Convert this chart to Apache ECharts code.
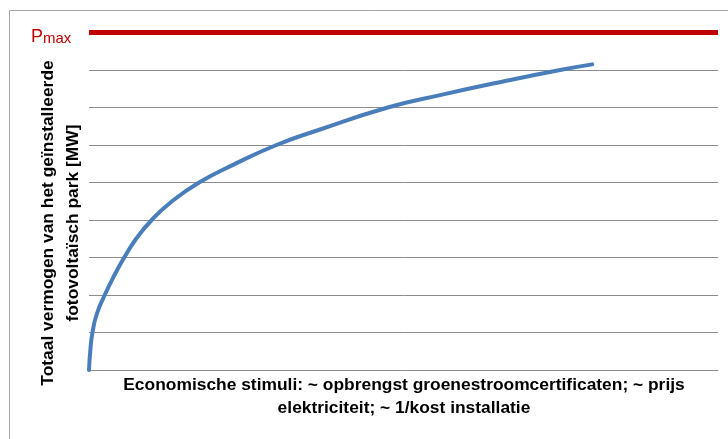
<!DOCTYPE html>
<html>
<head>
<meta charset="utf-8">
<script src="https://cdn.jsdelivr.net/npm/echarts@6/dist/echarts.min.js"></script>
<style>
  html, body { margin: 0; padding: 0; background: #fff; }
</style>
</head>
<body>
<div id="chart" style="width: 728px; height: 439px"></div>
<script>
// economische stimuli (relative units) and total installed power
const stimuli = [0, 0.2, 0.55, 1.25, 2.5, 3.95, 5.6, 7.5, 9.97, 13.2, 17.5, 22.9, 29.8, 36.5, 47.5, 55.8, 66, 74.9, 80];
const vermogen = [0, 0.5, 1, 1.5, 2, 2.5, 3, 3.5, 4, 4.5, 5, 5.47, 6, 6.4, 7, 7.33, 7.7, 8, 8.15];
const pmax = 9;

const xTitle = ["Economische stimuli: ~ opbrengst groenestroomcertificaten; ~ prijs", "elektriciteit; ~ 1/kost installatie"];
const yTitle = ["Totaal vermogen van het geïnstalleerde", "fotovoltaïsch park [MW]"];

const font = "Liberation Sans";

let myChart = echarts.init(document.getElementById("chart"));
myChart.setOption({
  animation: false,
  grid: { left: 89, right: 10, top: 32.5, bottom: 69 },
  xAxis: {
    type: "value",
    min: 0,
    max: 100,
    axisLine: { show: true, lineStyle: { color: "#8c8c8c", width: 1 } },
    axisTick: { show: false },
    axisLabel: { show: false },
    splitLine: { show: false },
  },
  yAxis: {
    type: "value",
    min: 0,
    max: pmax,
    interval: 1,
    axisLine: { show: false },
    axisTick: { show: false },
    axisLabel: { show: false },
    splitLine: { lineStyle: { color: "#8c8c8c", width: 1 } },
  },
  series: [
    {
      type: "line",
      smooth: 0.5,
      showSymbol: false,
      data: stimuli.map((x, i) => [x, vermogen[i]]),
      lineStyle: { color: "#4a7ebb", width: 4, cap: "round", join: "round" },
      markLine: {
        silent: true,
        symbol: "none",
        label: { show: false },
        lineStyle: { color: "#c00000", width: 5, type: "solid" },
        data: [{ yAxis: pmax }],
      },
    },
  ],
  graphic: [
    {
      type: "rect",
      shape: { x: 9.5, y: 10.5, width: 800, height: 500 },
      style: { fill: "none", stroke: "#a6a6a6", lineWidth: 1 },
    },
    {
      type: "text",
      left: 31,
      top: 28,
      style: {
        text: "{p|P}{s|max}",
        rich: {
          p: { fontSize: 18, fill: "#c00000", fontFamily: font },
          s: { fontSize: 15, fill: "#c00000", fontFamily: font, padding: [3, 0, 0, 0] },
        },
      },
    },
    {
      type: "text",
      x: 404,
      y: 397,
      style: {
        text: xTitle.join("\n"),
        fontSize: 17.4,
        fontWeight: "bold",
        fontFamily: font,
        lineHeight: 23,
        fill: "#000",
        align: "center",
        verticalAlign: "middle",
      },
    },
    {
      type: "text",
      x: 60.5,
      y: 223,
      rotation: Math.PI / 2,
      style: {
        text: yTitle.join("\n"),
        fontSize: 17.4,
        fontWeight: "bold",
        fontFamily: font,
        lineHeight: 25,
        fill: "#000",
        align: "center",
        verticalAlign: "middle",
      },
    },
  ],
});
</script>
</body>
</html>
